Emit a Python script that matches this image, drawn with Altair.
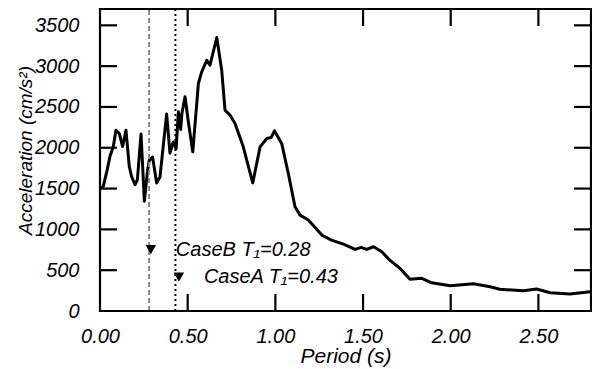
import altair as alt
import pandas as pd

period = [0.005, 0.019, 0.04, 0.057, 0.076, 0.091, 0.11, 0.129, 0.148, 0.167, 0.18, 0.2, 0.213,
          0.234, 0.253, 0.27, 0.281, 0.3, 0.323, 0.342, 0.38, 0.399, 0.418, 0.434, 0.447, 0.46,
          0.467, 0.485, 0.505, 0.529, 0.561, 0.58, 0.609, 0.627, 0.666, 0.694, 0.713, 0.742,
          0.77, 0.817, 0.871, 0.913, 0.951, 0.976, 0.995, 1.036, 1.074, 1.112, 1.141, 1.188,
          1.265, 1.32, 1.388, 1.455, 1.49, 1.52, 1.56, 1.607, 1.654, 1.711, 1.768, 1.835,
          1.892, 1.997, 2.13, 2.225, 2.28, 2.415, 2.49, 2.567, 2.68, 2.795]
accel = [1500, 1530, 1720, 1895, 2015, 2215, 2175, 2015, 2215, 1770, 1648, 1547, 1608,
         2170, 1345, 1700, 1846, 1885, 1567, 1640, 2415, 1934, 2070, 1990, 2440, 2225,
         2420, 2625, 2300, 1950, 2787, 2929, 3072, 3011, 3350, 2950, 2460, 2399,
         2297, 2011, 1570, 2011, 2114, 2126, 2207, 2053, 1685, 1277, 1175, 1114,
         930, 869, 820, 755, 780, 755, 787, 726, 620, 522, 388, 400,
         346, 310, 335, 297, 266, 248, 269, 224, 208, 236]

case_t1 = [0.28, 0.43]
case_dash = [[5, 3], [2, 3]]
case_color = ["#888888", "#000000"]
marker_x = [0.29, 0.45]
marker_y = [752, 416]
marker_label = ["CaseB T\u2081=0.28", "CaseA T\u2081=0.43"]

x_ticks = [0.5, 1.0, 1.5, 2.0, 2.5]
y_ticks = [500, 1000, 1500, 2000, 2500, 3000, 3500]
x_max = 2.8
y_max = 3700

PLOT_W, PLOT_H = 491, 302
FONT = "Liberation Sans"
BLACK = "#000000"
xs = alt.Scale(domain=[0, x_max], nice=False, zero=False)
ys = alt.Scale(domain=[0, y_max], nice=False)

# pixel -> data-unit conversions for drawing the frame and inward ticks as thin bars
ux = x_max / PLOT_W      # one pixel along x
uy = y_max / PLOT_H      # one pixel along y
TICK = 17                # tick length, px
HALF = 1.1               # half line width, px


def X(f):
    return alt.X(f, scale=xs, axis=None)


def Y(f):
    return alt.Y(f, scale=ys, axis=None)


curve = pd.DataFrame({"period": period, "accel": accel})

line = alt.Chart(curve).mark_line(color=BLACK, strokeWidth=3, strokeJoin="round").encode(
    x=alt.X("period:Q", scale=xs,
            axis=alt.Axis(title="Period (s)", values=[0.0] + x_ticks, format=".2f",
                          ticks=False, domain=False, grid=False, labelPadding=15,
                          labelFlush=False, titleFontSize=21, titleY=34,
                          titleBaseline="top")),
    y=alt.Y("accel:Q", scale=ys,
            axis=alt.Axis(title="Acceleration (cm/s\u00b2)", values=[0] + y_ticks, format="d",
                          ticks=False, domain=False, grid=False, labelPadding=21,
                          labelFlush=False, titleFontSize=19, titlePadding=-1,
                          titleY=141)),
)

layers = [line]
for t, d, c in zip(case_t1, case_dash, case_color):
    layers.append(
        alt.Chart(pd.DataFrame({"px": [t], "py0": [0], "py1": [y_max]}))
        .mark_rule(color=c, strokeWidth=2, strokeDash=d)
        .encode(x=X("px:Q"), y=Y("py0:Q"), y2="py1:Q")
    )

# frame and inward ticks as thin filled bars
bx1, bx2, by1, by2 = [], [], [], []
for v in x_ticks:
    for a, b in [(0, TICK * uy), (y_max - TICK * uy, y_max)]:
        bx1.append(v - HALF * ux); bx2.append(v + HALF * ux); by1.append(a); by2.append(b)
for v in y_ticks:
    for a, b in [(0, TICK * ux), (x_max - TICK * ux, x_max)]:
        bx1.append(a); bx2.append(b); by1.append(v - HALF * uy); by2.append(v + HALF * uy)
# four frame sides
for xv in [0, x_max]:
    bx1.append(xv - HALF * ux); bx2.append(xv + HALF * ux)
    by1.append(-HALF * uy); by2.append(y_max + HALF * uy)
for yv in [0, y_max]:
    bx1.append(-HALF * ux); bx2.append(x_max + HALF * ux)
    by1.append(yv - HALF * uy); by2.append(yv + HALF * uy)
bars = pd.DataFrame({"bx1": bx1, "bx2": bx2, "by1": by1, "by2": by2})
layers.append(alt.Chart(bars).mark_rect(color=BLACK, opacity=1).encode(
    x=X("bx1:Q"), x2="bx2:Q", y=Y("by1:Q"), y2="by2:Q"))

marks = pd.DataFrame({"mx": marker_x, "my": marker_y, "label": marker_label})
tri = alt.Chart(marks).mark_point(shape="triangle-down", filled=True, color=BLACK,
                                  size=110, opacity=1).encode(x=X("mx:Q"), y=Y("my:Q"))
txt = alt.Chart(marks).mark_text(align="left", baseline="middle", dx=25, font=FONT,
                                 fontStyle="italic", fontSize=20, color=BLACK).encode(
    x=X("mx:Q"), y=Y("my:Q"), text="label:N")
layers += [tri, txt]

chart = alt.layer(*layers).resolve_axis(x="independent", y="independent").properties(
    width=PLOT_W, height=PLOT_H,
    autosize=alt.AutoSizeParams(type="none"),
    padding={"left": 100, "top": 9, "right": 1, "bottom": 58},
    background="white",
).configure_view(stroke=BLACK, strokeWidth=2).configure_axis(
    labelFont=FONT, labelFontStyle="italic", labelFontSize=20, labelColor=BLACK,
    titleFont=FONT, titleFontStyle="italic", titleFontWeight="normal",
    titleColor=BLACK,
)

chart.save("out.html", embed_options={"renderer": "svg", "actions": False})
